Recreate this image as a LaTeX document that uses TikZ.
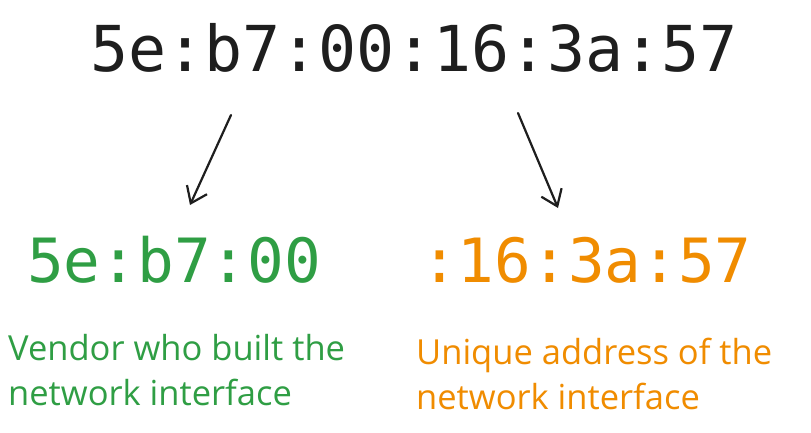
\documentclass[tikz,border=0pt]{standalone}
\usepackage{fontspec}
\setmainfont{Open Sans}
\newfontfamily\codefont{DejaVu Sans Mono}
\usetikzlibrary{arrows.meta}
\definecolor{macgreen}{HTML}{2F9E44}
\definecolor{macorange}{HTML}{F08C00}
\definecolor{inkblack}{HTML}{1E1E1E}
\tikzset{
  mac/.style={inner sep=0pt, anchor=base west, font=\codefont\fontsize{63.3}{63}\selectfont},
  submac/.style={mac, font=\codefont\fontsize{61}{61}\selectfont},
  desc/.style={inner sep=0pt, anchor=north west, align=left, font=\fontsize{34.5}{45}\selectfont},
  pointer/.style={draw=inkblack, line width=2.2pt, line cap=round, -{Straight Barb[length=15pt, width=22pt, line width=2.2pt]}}
}
\begin{document}
\begin{tikzpicture}[x=1pt, y=-1pt]
  \useasboundingbox[fill=white] (0,0) rectangle (811,433);
  \node[mac, text=inkblack] (full) at (90,72) {5e:b7:00:16:3a:57};
  \node[submac, text=macgreen] (vendor) at (27,282) {5e:b7:00};
  \node[submac, text=macorange] (nic) at (421,282) {:16:3a:57};
  \node[desc, text=macgreen] (vtext) at (8,334) {Vendor who built the\\network interface};
  \node[desc, text=macorange] (ntext) at (416,338) {Unique address of the\\network interface};
  \coordinate (a1s) at (231,115);
  \coordinate (a1e) at (190,205);
  \coordinate (a2s) at (518,113);
  \coordinate (a2e) at (558,208);
  \draw[pointer] (a1s) -- (a1e);
  \draw[pointer] (a2s) -- (a2e);
\end{tikzpicture}
\end{document}
